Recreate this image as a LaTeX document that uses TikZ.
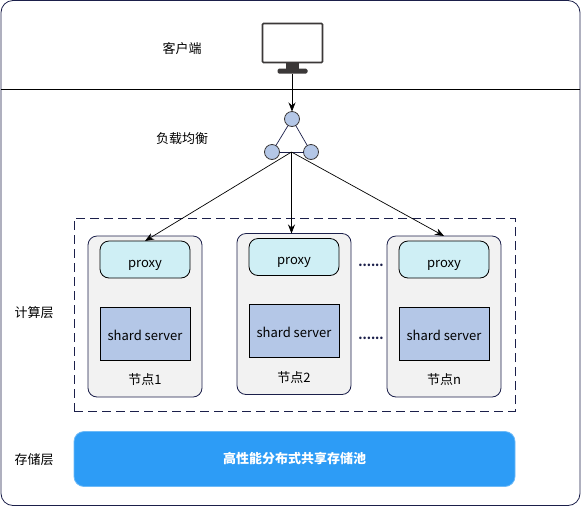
\documentclass[tikz,border=0pt]{standalone}
\usepackage{fontspec}
\setmainfont{Noto Sans CJK SC}
\usetikzlibrary{arrows.meta, positioning, calc}
\definecolor{FrameDark}{HTML}{1B1F4A}
\definecolor{ScreenDark}{HTML}{3B3838}
\definecolor{ShardBlue}{HTML}{B4C7E7}
\definecolor{ProxyCyan}{HTML}{CFEFF5}
\definecolor{NodeGray}{HTML}{F2F2F2}
\definecolor{PoolBlue}{HTML}{2D9CF6}
\definecolor{PoolEdge}{HTML}{6DBAF8}

\begin{document}
\begin{tikzpicture}[x=1pt, y=-1pt, >={Stealth[length=9pt, width=7pt]},
        every node/.style={outer sep=0pt, inner sep=0pt, font=\fontsize{13}{15}\selectfont},
        nodebox/.style={rectangle, draw=FrameDark, fill=NodeGray, rounded corners=9pt, line width=0.8pt, minimum width=114pt, minimum height=161pt},
        proxybox/.style={rectangle, draw=black, fill=ProxyCyan, rounded corners=9pt, line width=0.8pt, minimum width=90pt, minimum height=37pt, text height=16pt, text depth=1pt},
        shardbox/.style={rectangle, draw=black, fill=ShardBlue, line width=0.8pt, minimum width=90pt, minimum height=53pt, text height=14pt, text depth=1pt},
        lbnode/.style={circle, draw=ScreenDark, fill=ShardBlue, line width=0.8pt, minimum size=15pt},
        dotslabel/.style={font=\fontsize{12}{14}\selectfont\bfseries, text=FrameDark},
        arrow/.style={->, line width=0.7pt, black}
    ]
    \useasboundingbox (0,0) rectangle (581,507);

    % Outer frame
    \node[rectangle, draw=FrameDark, rounded corners=12pt, line width=0.8pt, minimum width=579pt, minimum height=505pt] (frame) at (290.5,253) {};
    \coordinate (sep) at (0,89);
    \draw[line width=0.7pt, black] (frame.west |- sep) -- (frame.east |- sep);

    % Client
    \node[rectangle, draw=ScreenDark, fill=white, rounded corners=1pt, line width=1.6pt, minimum width=60pt, minimum height=39pt] (screen) at (292.5,43) {};
    \node[rectangle, fill=ScreenDark, minimum width=13pt, minimum height=6pt, below=0pt of screen] (stand) {};
    \node[rectangle, fill=ScreenDark, rounded corners=1.5pt, minimum width=30pt, minimum height=5pt, below=0pt of stand] (base) {};
    \node (client) at (182,49) {客户端};

    % Load balancer
    \node[lbnode] (lbtop) at (292,119) {};
    \node[lbnode] (lbleft) at (272,152) {};
    \node[lbnode] (lbright) at (311,152) {};
    \node (balance) at (182,139) {负载均衡};
    \draw[line width=0.7pt, FrameDark] (lbtop) -- (lbleft);
    \draw[line width=0.7pt, FrameDark] (lbtop) -- (lbright);
    \draw[line width=0.7pt, FrameDark] (lbleft) -- (lbright);
    \coordinate (hub) at ($(lbleft)!0.5!(lbright)$);

    % Compute layer
    \node[rectangle, draw=FrameDark, dash pattern=on 9pt off 5pt, line width=0.8pt, minimum width=441pt, minimum height=193pt] (compute) at (294.5,314.5) {};
    \node (computelabel) at (34,313) {计算层};

    \node[nodebox] (node1) at (145,316.5) {};
    \node[proxybox, below=5pt of node1.north] (proxy1) {proxy};
    \node[shardbox, below=29pt of proxy1] (shard1) {shard server};
    \node[below=20pt of shard1.south, anchor=center] (name1) {节点1};

    \node[nodebox] (node2) at (294,314) {};
    \node[proxybox, below=5pt of node2.north] (proxy2) {proxy};
    \node[shardbox, below=29pt of proxy2] (shard2) {shard server};
    \node[below=20pt of shard2.south, anchor=center] (name2) {节点2};

    \node[nodebox] (noden) at (444,316.5) {};
    \node[proxybox, below=5pt of noden.north] (proxyn) {proxy};
    \node[shardbox, below=29pt of proxyn] (shardn) {shard server};
    \node[below=20pt of shardn.south, anchor=center] (namen) {节点n};

    \node[dotslabel] (dotsa) at (371,265) {......};
    \node[dotslabel] (dotsb) at (371,338) {......};

    % Storage layer
    \node[rectangle, draw=PoolEdge, fill=PoolBlue, rounded corners=10pt, line width=0.8pt, minimum width=441pt, minimum height=55pt, text=white, font=\fontsize{13}{15}\selectfont\bfseries] (pool) at (294.5,459) {高性能分布式共享存储池};
    \node (storagelabel) at (34,460) {存储层};

    % Arrows
    \draw[arrow] (base.south -| lbtop) -- (lbtop);
    \draw[arrow] (hub) -- (proxy1.north);
    \draw[arrow] (hub) -- (node2.north -| hub);
    \draw[arrow] (hub) -- (noden.north);
\end{tikzpicture}
\end{document}
